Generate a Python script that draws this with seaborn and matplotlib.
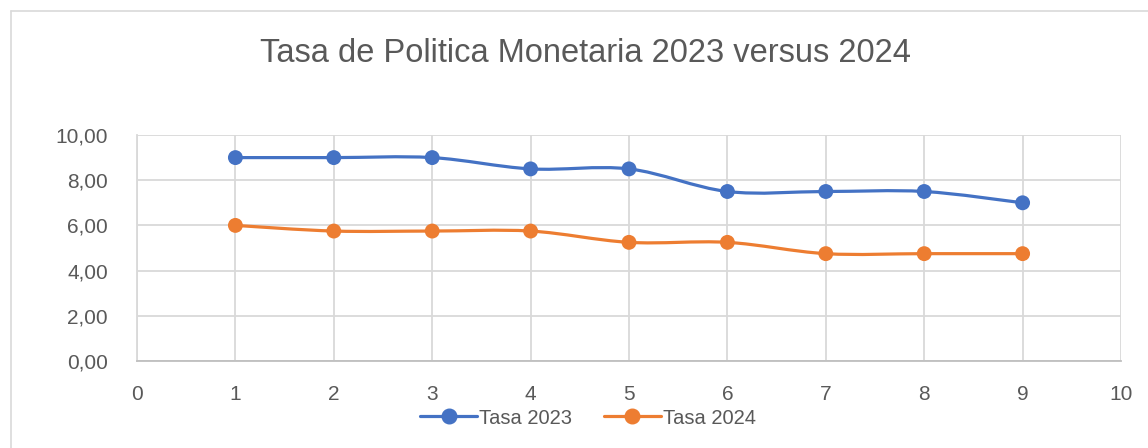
import numpy as np
import pandas as pd
import seaborn as sns
import matplotlib
matplotlib.use("Agg")
import matplotlib.pyplot as plt
from matplotlib.path import Path
from matplotlib.patches import PathPatch
from matplotlib.lines import Line2D

months = [1, 2, 3, 4, 5, 6, 7, 8, 9]
tasa_2023 = [9.00, 9.00, 9.00, 8.50, 8.50, 7.50, 7.50, 7.50, 7.00]
tasa_2024 = [6.00, 5.75, 5.75, 5.75, 5.25, 5.25, 4.75, 4.75, 4.75]
series_names = ["Tasa 2023", "Tasa 2024"]
colors = ["#4472C4", "#ED7D31"]
title = "Tasa de Politica Monetaria 2023 versus 2024"

sns.set_theme(style="white")
plt.rcParams['font.family'] = ['Liberation Sans', 'DejaVu Sans']

df = pd.DataFrame({
    "x": months * 2,
    "y": tasa_2023 + tasa_2024,
    "serie": [series_names[0]] * len(months) + [series_names[1]] * len(months),
})

fig = plt.figure(figsize=(11.48, 4.48), dpi=100)
ax = fig.add_axes([137/1148, 1 - 361/448, (1121-137)/1148, (361-135)/448])

def smooth_path(xs, ys):
    pts = np.column_stack([xs, ys]).astype(float)
    n = len(pts)
    verts = [pts[0]]
    codes = [Path.MOVETO]
    for i in range(n - 1):
        p0 = pts[i - 1] if i > 0 else pts[i]
        p1 = pts[i]
        p2 = pts[i + 1]
        p3 = pts[i + 2] if i + 2 < n else pts[i + 1]
        c1 = p1 + (p2 - p0) / 6.0
        c2 = p2 - (p3 - p1) / 6.0
        verts += [c1, c2, p2]
        codes += [Path.CURVE4] * 3
    return Path(verts, codes)

for name, col in zip(series_names, colors):
    sub = df[df.serie == name]
    patch = PathPatch(smooth_path(sub.x.values, sub.y.values), facecolor="none",
                      edgecolor=col, lw=2.3, zorder=3, capstyle="round")
    ax.add_patch(patch)

sns.scatterplot(data=df, x="x", y="y", hue="serie", palette=colors, s=115,
                edgecolor="none", ax=ax, zorder=4, legend=False)

ax.set_xlim(0, 10)
ax.set_ylim(0, 10)
ax.set_xticks(range(0, 11))
ax.set_yticks(np.arange(0, 10.01, 2))
ax.set_yticklabels([f"{v:.2f}".replace(".", ",") for v in np.arange(0, 10.01, 2)])
ax.set_xlabel("")
ax.set_ylabel("")
ax.grid(True, color="#d9d9d9", lw=1.3)
ax.set_axisbelow(True)
for s in ["top", "right"]:
    ax.spines[s].set_visible(False)
ax.spines["left"].set_color("#d9d9d9")
ax.spines["bottom"].set_color("#bfbfbf")
ax.spines["left"].set_linewidth(1.3)
ax.spines["bottom"].set_linewidth(1.3)
ax.tick_params(axis="both", length=0, labelsize=15, labelcolor="#595959")
ax.tick_params(axis="x", pad=17)
ax.tick_params(axis="y", pad=21)

fig.text(586/1148, 1 - 53/448, title, ha="center", va="center", fontsize=23.5, color="#595959")

handles = [Line2D([0], [0], color=c, lw=2.3, marker="o", markersize=10.5) for c in colors]
fig.legend(handles, series_names, loc="center", bbox_to_anchor=(588/1148, 1 - 418/448),
           ncol=2, frameon=False, fontsize=14.5, labelcolor="#595959",
           handlelength=2.8, handletextpad=0.1, columnspacing=1.6)

# chart-area border (left and top edges visible)
fig.add_artist(Line2D([10.5/1148, 10.5/1148], [0, 1 - 11/448], color="#d9d9d9", lw=1.2))
fig.add_artist(Line2D([10.5/1148, 1], [1 - 11/448, 1 - 11/448], color="#d9d9d9", lw=1.2))

fig.savefig("out.png", dpi=100)
